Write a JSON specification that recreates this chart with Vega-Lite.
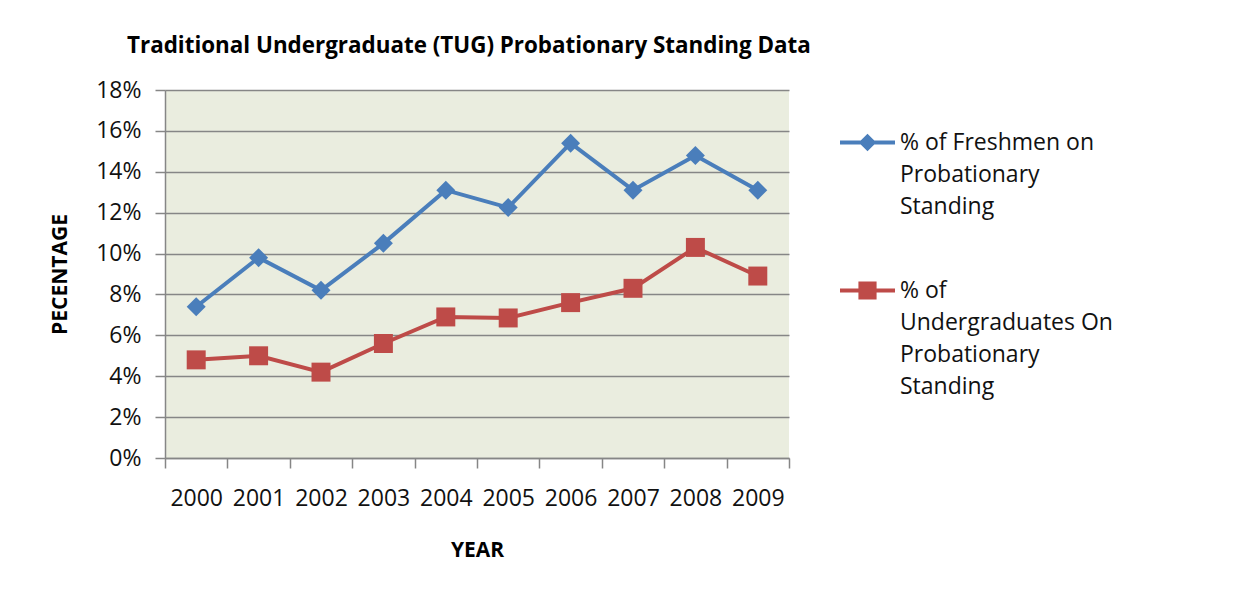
{
  "$schema": "https://vega.github.io/schema/vega-lite/v6.json",
  "width": 624,
  "height": 368,
  "autosize": {"type": "none"},
  "padding": {"left": 165, "top": 90, "right": 464, "bottom": 131},
  "background": "#ffffff",
  "title": {
    "text": "Traditional Undergraduate (TUG)  Probationary Standing Data",
    "anchor": "start",
    "frame": "group",
    "dx": -38,
    "offset": 22,
    "font": "Open Sans",
    "fontSize": 22.4,
    "fontWeight": "bold",
    "color": "#000000"
  },
  "config": {
    "view": {"fill": "#EAEDDF", "stroke": null},
    "font": "Open Sans",
    "axis": {
      "domainColor": "#868686",
      "domainWidth": 1.5,
      "tickColor": "#868686",
      "tickWidth": 1.5,
      "tickSize": 10,
      "gridColor": "#868686",
      "gridWidth": 1.3,
      "labelFont": "Open Sans",
      "labelFontSize": 23,
      "labelColor": "#111111",
      "titleFont": "Open Sans",
      "titleFontSize": 21,
      "titleFontWeight": "bold",
      "titleColor": "#000000"
    }
  },
  "data": {
    "values": [
      {"year": "2000", "series": "% of Freshmen on Probationary Standing", "value": 0.074},
      {"year": "2001", "series": "% of Freshmen on Probationary Standing", "value": 0.098},
      {"year": "2002", "series": "% of Freshmen on Probationary Standing", "value": 0.082},
      {"year": "2003", "series": "% of Freshmen on Probationary Standing", "value": 0.105},
      {"year": "2004", "series": "% of Freshmen on Probationary Standing", "value": 0.131},
      {"year": "2005", "series": "% of Freshmen on Probationary Standing", "value": 0.1225},
      {"year": "2006", "series": "% of Freshmen on Probationary Standing", "value": 0.154},
      {"year": "2007", "series": "% of Freshmen on Probationary Standing", "value": 0.131},
      {"year": "2008", "series": "% of Freshmen on Probationary Standing", "value": 0.148},
      {"year": "2009", "series": "% of Freshmen on Probationary Standing", "value": 0.131},
      {"year": "2000", "series": "% of Undergraduates On Probationary Standing", "value": 0.048},
      {"year": "2001", "series": "% of Undergraduates On Probationary Standing", "value": 0.050},
      {"year": "2002", "series": "% of Undergraduates On Probationary Standing", "value": 0.042},
      {"year": "2003", "series": "% of Undergraduates On Probationary Standing", "value": 0.056},
      {"year": "2004", "series": "% of Undergraduates On Probationary Standing", "value": 0.069},
      {"year": "2005", "series": "% of Undergraduates On Probationary Standing", "value": 0.0685},
      {"year": "2006", "series": "% of Undergraduates On Probationary Standing", "value": 0.076},
      {"year": "2007", "series": "% of Undergraduates On Probationary Standing", "value": 0.083},
      {"year": "2008", "series": "% of Undergraduates On Probationary Standing", "value": 0.103},
      {"year": "2009", "series": "% of Undergraduates On Probationary Standing", "value": 0.089}
    ]
  },
  "encoding": {
    "x": {
      "field": "year",
      "type": "ordinal",
      "scale": {"type": "band", "paddingInner": 0, "paddingOuter": 0},
      "axis": {
        "title": "YEAR",
        "labelAngle": 0,
        "tickBand": "extent",
        "grid": false,
        "labelPadding": 19,
        "titlePadding": 29
      }
    },
    "y": {
      "field": "value",
      "type": "quantitative",
      "scale": {"domain": [0, 0.18]},
      "axis": {
        "title": "PECENTAGE",
        "format": ".0%",
        "values": [0, 0.02, 0.04, 0.06, 0.08, 0.1, 0.12, 0.14, 0.16, 0.18],
        "grid": true,
        "labelPadding": 14,
        "titlePadding": 25
      }
    }
  },
  "layer": [
    {
      "mark": {"type": "point", "filled": true, "size": 0, "strokeWidth": 0},
      "encoding": {
        "color": {
          "field": "series",
          "type": "nominal",
          "scale": {"range": ["#4A7EBB", "#BE4B48"]},
          "legend": {
            "orient": "none",
            "legendX": 675,
            "legendY": 25,
            "title": null,
            "padding": 0,
            "symbolSize": 3025,
            "symbolOpacity": 1,
            "symbolStrokeWidth": 0,
            "labelFont": "Open Sans",
            "labelFontSize": 23,
            "labelColor": "#111111",
            "labelLimit": 400,
            "labelOffset": 5,
            "rowPadding": 44,
            "encode": {"labels": {"update": {"lineHeight": {"value": 32}}}},
            "labelExpr": "datum.label == '% of Freshmen on Probationary Standing' ? ['% of Freshmen on', 'Probationary', 'Standing'] : ['% of', 'Undergraduates On', 'Probationary', 'Standing']"
          }
        },
        "shape": {
          "field": "series",
          "type": "nominal",
          "scale": {"range": [
            "M-1,-0.075H1V0.075H-1Z M0,-0.32L0.32,0L0,0.32L-0.32,0Z",
            "M-1,-0.075H1V0.075H-1Z M-0.33,-0.33H0.33V0.33H-0.33Z"
          ]}
        }
      }
    },
    {
      "transform": [{"filter": "datum.series == '% of Freshmen on Probationary Standing'"}],
      "mark": {"type": "line", "strokeWidth": 4, "color": "#4A7EBB"}
    },
    {
      "transform": [{"filter": "datum.series == '% of Undergraduates On Probationary Standing'"}],
      "mark": {"type": "line", "strokeWidth": 4, "color": "#BE4B48"}
    },
    {
      "transform": [{"filter": "datum.series == '% of Freshmen on Probationary Standing'"}],
      "mark": {"type": "point", "shape": "diamond", "filled": true, "size": 360, "opacity": 1, "color": "#4A7EBB"}
    },
    {
      "transform": [{"filter": "datum.series == '% of Undergraduates On Probationary Standing'"}],
      "mark": {"type": "point", "shape": "square", "filled": true, "size": 360, "opacity": 1, "color": "#BE4B48"}
    }
  ]
}
